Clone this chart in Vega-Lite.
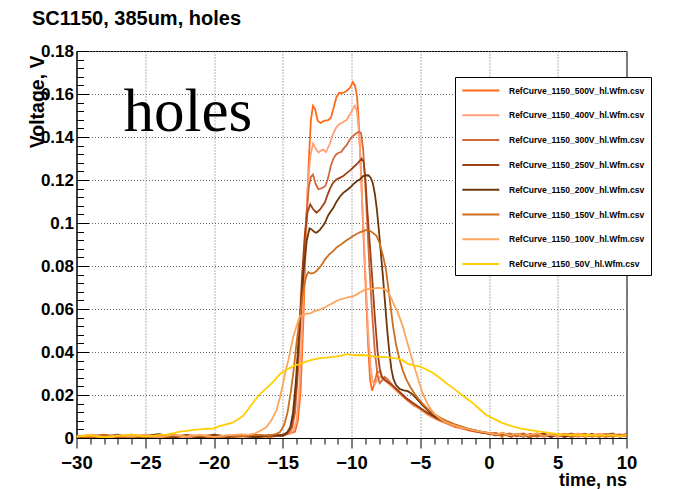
{
 "$schema": "https://vega.github.io/schema/vega-lite/v6.json",
 "width": 550, "height": 387,
 "autosize": {"type": "none"},
 "padding": {"left": 76.5, "top": 51, "right": 47.5, "bottom": 51},
 "background": "white",
 "title": {"text": "SC1150, 385um, holes", "anchor": "start", "frame": "group", "font": "Liberation Sans", "fontSize": 20, "fontWeight": "bold", "color": "black", "dx": -44.5, "dy": 17, "baseline": "alphabetic", "offset": 14},
 "config": {"view": {"stroke": "black", "strokeWidth": 1}},
 "data": {"values": [
{"s":"500V","t":-30,"v":0.0005},{"s":"500V","t":-29,"v":0.0012},{"s":"500V","t":-28,"v":0.0002},{"s":"500V","t":-27,"v":0.001},{"s":"500V","t":-26,"v":-0.0003},{"s":"500V","t":-25,"v":0.0008},{"s":"500V","t":-24,"v":0.0015},{"s":"500V","t":-23,"v":0.0002},{"s":"500V","t":-22,"v":0.001},{"s":"500V","t":-21,"v":-0.0002},{"s":"500V","t":-20,"v":0.0009},{"s":"500V","t":-19,"v":0.0004},{"s":"500V","t":-18,"v":0.0012},{"s":"500V","t":-17,"v":0.0},{"s":"500V","t":-16,"v":0.001},{"s":"500V","t":-15,"v":0.0015},{"s":"500V","t":-14.5,"v":0.002},{"s":"500V","t":-14.1,"v":0.003},{"s":"500V","t":-13.9,"v":0.008},{"s":"500V","t":-13.7,"v":0.022},{"s":"500V","t":-13.5,"v":0.055},{"s":"500V","t":-13.3,"v":0.095},{"s":"500V","t":-13.1,"v":0.13},{"s":"500V","t":-12.95,"v":0.148},{"s":"500V","t":-12.8,"v":0.1545},{"s":"500V","t":-12.65,"v":0.153},{"s":"500V","t":-12.45,"v":0.1475},{"s":"500V","t":-12.25,"v":0.1465},{"s":"500V","t":-12.0,"v":0.1475},{"s":"500V","t":-11.7,"v":0.1478},{"s":"500V","t":-11.5,"v":0.149},{"s":"500V","t":-11.3,"v":0.1535},{"s":"500V","t":-11.1,"v":0.1585},{"s":"500V","t":-10.9,"v":0.1605},{"s":"500V","t":-10.6,"v":0.1605},{"s":"500V","t":-10.35,"v":0.1615},{"s":"500V","t":-10.1,"v":0.163},{"s":"500V","t":-9.9,"v":0.1655},{"s":"500V","t":-9.75,"v":0.164},{"s":"500V","t":-9.6,"v":0.159},{"s":"500V","t":-9.5,"v":0.15},{"s":"500V","t":-9.35,"v":0.13},{"s":"500V","t":-9.2,"v":0.105},{"s":"500V","t":-9.0,"v":0.075},{"s":"500V","t":-8.8,"v":0.045},{"s":"500V","t":-8.65,"v":0.027},{"s":"500V","t":-8.5,"v":0.022},{"s":"500V","t":-8.35,"v":0.025},{"s":"500V","t":-8.15,"v":0.0305},{"s":"500V","t":-7.95,"v":0.031},{"s":"500V","t":-7.75,"v":0.028},{"s":"500V","t":-7.5,"v":0.0265},{"s":"500V","t":-7.2,"v":0.025},{"s":"500V","t":-6.9,"v":0.0235},{"s":"500V","t":-6.5,"v":0.021},{"s":"500V","t":-6.0,"v":0.018},{"s":"500V","t":-5.5,"v":0.0152},{"s":"500V","t":-5.0,"v":0.0135},{"s":"500V","t":-4.5,"v":0.011},{"s":"500V","t":-4.0,"v":0.0092},{"s":"500V","t":-3.5,"v":0.0078},{"s":"500V","t":-3.0,"v":0.0065},{"s":"500V","t":-2.5,"v":0.0052},{"s":"500V","t":-2.0,"v":0.0045},{"s":"500V","t":-1.5,"v":0.0035},{"s":"500V","t":-1.0,"v":0.003},{"s":"500V","t":-0.5,"v":0.0025},{"s":"500V","t":0,"v":0.002},{"s":"500V","t":0.5,"v":0.0022},{"s":"500V","t":0.9,"v":0.0008},{"s":"500V","t":1.2,"v":-0.0018},{"s":"500V","t":1.5,"v":-0.0005},{"s":"500V","t":1.9,"v":0.0018},{"s":"500V","t":2.5,"v":0.0008},{"s":"500V","t":3.0,"v":0.002},{"s":"500V","t":3.5,"v":0.0006},{"s":"500V","t":4.0,"v":0.0015},{"s":"500V","t":4.5,"v":0.0005},{"s":"500V","t":5.0,"v":0.0013},{"s":"500V","t":5.5,"v":0.002},{"s":"500V","t":6.0,"v":0.0008},{"s":"500V","t":6.5,"v":0.0018},{"s":"500V","t":7.0,"v":0.0004},{"s":"500V","t":7.5,"v":0.0014},{"s":"500V","t":8.0,"v":0.0006},{"s":"500V","t":8.5,"v":0.0016},{"s":"500V","t":9.0,"v":0.0005},{"s":"500V","t":9.5,"v":0.0017},{"s":"500V","t":10,"v":0.001},
{"s":"400V","t":-30,"v":0.001},{"s":"400V","t":-29,"v":0.0003},{"s":"400V","t":-28,"v":0.0011},{"s":"400V","t":-27,"v":0.0005},{"s":"400V","t":-26,"v":0.0014},{"s":"400V","t":-25,"v":0.0002},{"s":"400V","t":-24,"v":0.0009},{"s":"400V","t":-23,"v":0.0016},{"s":"400V","t":-22,"v":0.0004},{"s":"400V","t":-21,"v":0.0012},{"s":"400V","t":-20,"v":0.0003},{"s":"400V","t":-19,"v":0.001},{"s":"400V","t":-18,"v":-0.0004},{"s":"400V","t":-17,"v":0.0012},{"s":"400V","t":-16,"v":0.0006},{"s":"400V","t":-15,"v":0.0013},{"s":"400V","t":-14.5,"v":0.002},{"s":"400V","t":-14.2,"v":0.004},{"s":"400V","t":-14.0,"v":0.008},{"s":"400V","t":-13.8,"v":0.022},{"s":"400V","t":-13.6,"v":0.05},{"s":"400V","t":-13.4,"v":0.085},{"s":"400V","t":-13.2,"v":0.115},{"s":"400V","t":-13.0,"v":0.131},{"s":"400V","t":-12.8,"v":0.137},{"s":"400V","t":-12.6,"v":0.1345},{"s":"400V","t":-12.4,"v":0.1328},{"s":"400V","t":-12.2,"v":0.1338},{"s":"400V","t":-12.05,"v":0.1342},{"s":"400V","t":-11.85,"v":0.133},{"s":"400V","t":-11.6,"v":0.1365},{"s":"400V","t":-11.35,"v":0.1413},{"s":"400V","t":-11.1,"v":0.1445},{"s":"400V","t":-10.9,"v":0.146},{"s":"400V","t":-10.6,"v":0.147},{"s":"400V","t":-10.35,"v":0.148},{"s":"400V","t":-10.1,"v":0.1507},{"s":"400V","t":-9.9,"v":0.153},{"s":"400V","t":-9.75,"v":0.1545},{"s":"400V","t":-9.6,"v":0.152},{"s":"400V","t":-9.45,"v":0.142},{"s":"400V","t":-9.3,"v":0.122},{"s":"400V","t":-9.15,"v":0.1},{"s":"400V","t":-9.0,"v":0.078},{"s":"400V","t":-8.8,"v":0.05},{"s":"400V","t":-8.6,"v":0.032},{"s":"400V","t":-8.45,"v":0.026},{"s":"400V","t":-8.3,"v":0.025},{"s":"400V","t":-8.1,"v":0.0275},{"s":"400V","t":-7.9,"v":0.0285},{"s":"400V","t":-7.65,"v":0.027},{"s":"400V","t":-7.35,"v":0.0255},{"s":"400V","t":-7.0,"v":0.0235},{"s":"400V","t":-6.5,"v":0.0205},{"s":"400V","t":-6.0,"v":0.0178},{"s":"400V","t":-5.5,"v":0.0155},{"s":"400V","t":-5.0,"v":0.0132},{"s":"400V","t":-4.5,"v":0.0112},{"s":"400V","t":-4.0,"v":0.0095},{"s":"400V","t":-3.5,"v":0.008},{"s":"400V","t":-3.0,"v":0.0066},{"s":"400V","t":-2.5,"v":0.0056},{"s":"400V","t":-2.0,"v":0.0047},{"s":"400V","t":-1.5,"v":0.0038},{"s":"400V","t":-1.0,"v":0.0032},{"s":"400V","t":-0.5,"v":0.0024},{"s":"400V","t":0,"v":0.0022},{"s":"400V","t":0.5,"v":0.0012},{"s":"400V","t":1.0,"v":0.0025},{"s":"400V","t":1.5,"v":0.0009},{"s":"400V","t":2.0,"v":0.0016},{"s":"400V","t":2.5,"v":0.0022},{"s":"400V","t":3.0,"v":0.0008},{"s":"400V","t":3.5,"v":0.0016},{"s":"400V","t":4.0,"v":0.0004},{"s":"400V","t":4.5,"v":0.0014},{"s":"400V","t":5.0,"v":0.002},{"s":"400V","t":5.5,"v":0.0007},{"s":"400V","t":6.0,"v":0.0015},{"s":"400V","t":6.5,"v":0.0004},{"s":"400V","t":7.0,"v":0.0018},{"s":"400V","t":7.5,"v":0.0008},{"s":"400V","t":8.0,"v":0.0015},{"s":"400V","t":8.5,"v":0.0003},{"s":"400V","t":9.0,"v":0.0012},{"s":"400V","t":9.5,"v":0.0018},{"s":"400V","t":10,"v":0.0009},
{"s":"300V","t":-30,"v":0.0002},{"s":"300V","t":-29,"v":0.001},{"s":"300V","t":-28,"v":0.0016},{"s":"300V","t":-27,"v":0.0003},{"s":"300V","t":-26,"v":0.0009},{"s":"300V","t":-25,"v":0.0013},{"s":"300V","t":-24,"v":0.0001},{"s":"300V","t":-23,"v":0.0008},{"s":"300V","t":-22,"v":0.0014},{"s":"300V","t":-21,"v":0.0005},{"s":"300V","t":-20,"v":0.0011},{"s":"300V","t":-19,"v":0.0},{"s":"300V","t":-18,"v":0.0009},{"s":"300V","t":-17,"v":0.0015},{"s":"300V","t":-16,"v":0.0004},{"s":"300V","t":-15,"v":0.0012},{"s":"300V","t":-14.6,"v":0.002},{"s":"300V","t":-14.3,"v":0.005},{"s":"300V","t":-14.1,"v":0.012},{"s":"300V","t":-13.9,"v":0.03},{"s":"300V","t":-13.7,"v":0.055},{"s":"300V","t":-13.5,"v":0.08},{"s":"300V","t":-13.3,"v":0.102},{"s":"300V","t":-13.1,"v":0.117},{"s":"300V","t":-12.95,"v":0.1215},{"s":"300V","t":-12.8,"v":0.1225},{"s":"300V","t":-12.6,"v":0.118},{"s":"300V","t":-12.4,"v":0.1157},{"s":"300V","t":-12.15,"v":0.1162},{"s":"300V","t":-11.9,"v":0.1172},{"s":"300V","t":-11.7,"v":0.121},{"s":"300V","t":-11.5,"v":0.1266},{"s":"300V","t":-11.3,"v":0.1302},{"s":"300V","t":-11.1,"v":0.132},{"s":"300V","t":-10.9,"v":0.1328},{"s":"300V","t":-10.75,"v":0.133},{"s":"300V","t":-10.55,"v":0.1348},{"s":"300V","t":-10.35,"v":0.1362},{"s":"300V","t":-10.15,"v":0.1385},{"s":"300V","t":-9.95,"v":0.1402},{"s":"300V","t":-9.7,"v":0.1415},{"s":"300V","t":-9.45,"v":0.1425},{"s":"300V","t":-9.3,"v":0.1418},{"s":"300V","t":-9.15,"v":0.134},{"s":"300V","t":-9.0,"v":0.118},{"s":"300V","t":-8.85,"v":0.099},{"s":"300V","t":-8.7,"v":0.08},{"s":"300V","t":-8.5,"v":0.058},{"s":"300V","t":-8.3,"v":0.04},{"s":"300V","t":-8.1,"v":0.029},{"s":"300V","t":-7.95,"v":0.0255},{"s":"300V","t":-7.8,"v":0.0265},{"s":"300V","t":-7.6,"v":0.0285},{"s":"300V","t":-7.4,"v":0.0275},{"s":"300V","t":-7.1,"v":0.0252},{"s":"300V","t":-6.8,"v":0.023},{"s":"300V","t":-6.4,"v":0.0205},{"s":"300V","t":-6.0,"v":0.018},{"s":"300V","t":-5.5,"v":0.0158},{"s":"300V","t":-5.0,"v":0.0138},{"s":"300V","t":-4.5,"v":0.0116},{"s":"300V","t":-4.0,"v":0.0098},{"s":"300V","t":-3.5,"v":0.0082},{"s":"300V","t":-3.0,"v":0.0068},{"s":"300V","t":-2.5,"v":0.0058},{"s":"300V","t":-2.0,"v":0.0048},{"s":"300V","t":-1.5,"v":0.0039},{"s":"300V","t":-1.0,"v":0.0031},{"s":"300V","t":-0.5,"v":0.0026},{"s":"300V","t":0,"v":0.0018},{"s":"300V","t":0.5,"v":0.0024},{"s":"300V","t":1.0,"v":0.0012},{"s":"300V","t":1.5,"v":0.002},{"s":"300V","t":2.0,"v":0.0007},{"s":"300V","t":2.5,"v":0.0017},{"s":"300V","t":3.0,"v":0.0011},{"s":"300V","t":3.5,"v":0.0021},{"s":"300V","t":4.0,"v":0.0009},{"s":"300V","t":4.5,"v":0.0017},{"s":"300V","t":5.0,"v":0.0006},{"s":"300V","t":5.5,"v":0.0015},{"s":"300V","t":6.0,"v":0.0021},{"s":"300V","t":6.5,"v":0.001},{"s":"300V","t":7.0,"v":0.0016},{"s":"300V","t":7.5,"v":0.0005},{"s":"300V","t":8.0,"v":0.0014},{"s":"300V","t":8.5,"v":0.0019},{"s":"300V","t":9.0,"v":0.0007},{"s":"300V","t":9.5,"v":0.0013},{"s":"300V","t":10,"v":0.0016},
{"s":"250V","t":-30,"v":0.0008},{"s":"250V","t":-29,"v":0.0001},{"s":"250V","t":-28,"v":0.0012},{"s":"250V","t":-27,"v":0.0006},{"s":"250V","t":-26,"v":0.0015},{"s":"250V","t":-25,"v":0.0004},{"s":"250V","t":-24,"v":0.0011},{"s":"250V","t":-23,"v":0.0},{"s":"250V","t":-22,"v":0.0013},{"s":"250V","t":-21,"v":0.0007},{"s":"250V","t":-20,"v":0.0016},{"s":"250V","t":-19,"v":0.0005},{"s":"250V","t":-18,"v":0.001},{"s":"250V","t":-17,"v":0.0003},{"s":"250V","t":-16,"v":0.0013},{"s":"250V","t":-15,"v":0.0009},{"s":"250V","t":-14.7,"v":0.002},{"s":"250V","t":-14.4,"v":0.005},{"s":"250V","t":-14.2,"v":0.011},{"s":"250V","t":-14.0,"v":0.025},{"s":"250V","t":-13.8,"v":0.05},{"s":"250V","t":-13.6,"v":0.075},{"s":"250V","t":-13.4,"v":0.094},{"s":"250V","t":-13.2,"v":0.105},{"s":"250V","t":-13.0,"v":0.1087},{"s":"250V","t":-12.8,"v":0.1065},{"s":"250V","t":-12.55,"v":0.1048},{"s":"250V","t":-12.3,"v":0.1062},{"s":"250V","t":-12.1,"v":0.108},{"s":"250V","t":-11.94,"v":0.1095},{"s":"250V","t":-11.75,"v":0.113},{"s":"250V","t":-11.55,"v":0.1162},{"s":"250V","t":-11.33,"v":0.1188},{"s":"250V","t":-11.1,"v":0.1202},{"s":"250V","t":-10.85,"v":0.121},{"s":"250V","t":-10.6,"v":0.1219},{"s":"250V","t":-10.35,"v":0.1232},{"s":"250V","t":-10.1,"v":0.1245},{"s":"250V","t":-9.88,"v":0.1258},{"s":"250V","t":-9.65,"v":0.1272},{"s":"250V","t":-9.45,"v":0.1285},{"s":"250V","t":-9.27,"v":0.13},{"s":"250V","t":-9.12,"v":0.1285},{"s":"250V","t":-8.98,"v":0.12},{"s":"250V","t":-8.85,"v":0.106},{"s":"250V","t":-8.7,"v":0.093},{"s":"250V","t":-8.5,"v":0.075},{"s":"250V","t":-8.3,"v":0.056},{"s":"250V","t":-8.1,"v":0.04},{"s":"250V","t":-7.95,"v":0.0325},{"s":"250V","t":-7.8,"v":0.0285},{"s":"250V","t":-7.6,"v":0.0272},{"s":"250V","t":-7.35,"v":0.026},{"s":"250V","t":-7.1,"v":0.0248},{"s":"250V","t":-6.8,"v":0.0232},{"s":"250V","t":-6.4,"v":0.0208},{"s":"250V","t":-6.0,"v":0.0185},{"s":"250V","t":-5.5,"v":0.0162},{"s":"250V","t":-5.0,"v":0.014},{"s":"250V","t":-4.5,"v":0.0118},{"s":"250V","t":-4.0,"v":0.01},{"s":"250V","t":-3.5,"v":0.0084},{"s":"250V","t":-3.0,"v":0.0071},{"s":"250V","t":-2.5,"v":0.006},{"s":"250V","t":-2.0,"v":0.0049},{"s":"250V","t":-1.5,"v":0.004},{"s":"250V","t":-1.0,"v":0.0032},{"s":"250V","t":-0.5,"v":0.0025},{"s":"250V","t":0,"v":0.0021},{"s":"250V","t":0.5,"v":0.0012},{"s":"250V","t":1.0,"v":0.0019},{"s":"250V","t":1.5,"v":0.0008},{"s":"250V","t":2.0,"v":0.0018},{"s":"250V","t":2.5,"v":0.0011},{"s":"250V","t":3.0,"v":0.0004},{"s":"250V","t":3.5,"v":0.0016},{"s":"250V","t":4.0,"v":0.0021},{"s":"250V","t":4.5,"v":0.0008},{"s":"250V","t":5.0,"v":0.0015},{"s":"250V","t":5.5,"v":0.0004},{"s":"250V","t":6.0,"v":0.0013},{"s":"250V","t":6.5,"v":0.0019},{"s":"250V","t":7.0,"v":0.0008},{"s":"250V","t":7.5,"v":0.0017},{"s":"250V","t":8.0,"v":0.001},{"s":"250V","t":8.5,"v":0.0014},{"s":"250V","t":9.0,"v":0.0021},{"s":"250V","t":9.5,"v":0.0006},{"s":"250V","t":10,"v":0.0012},
{"s":"200V","t":-30,"v":0.0004},{"s":"200V","t":-29,"v":0.0013},{"s":"200V","t":-28,"v":0.0006},{"s":"200V","t":-27,"v":0.0015},{"s":"200V","t":-26,"v":0.0002},{"s":"200V","t":-25,"v":0.001},{"s":"200V","t":-24,"v":0.0018},{"s":"200V","t":-23,"v":0.0006},{"s":"200V","t":-22,"v":0.0011},{"s":"200V","t":-21,"v":0.0002},{"s":"200V","t":-20,"v":0.0013},{"s":"200V","t":-19,"v":0.0007},{"s":"200V","t":-18,"v":0.0015},{"s":"200V","t":-17,"v":0.0004},{"s":"200V","t":-16,"v":0.0011},{"s":"200V","t":-15,"v":0.0014},{"s":"200V","t":-14.7,"v":0.0025},{"s":"200V","t":-14.45,"v":0.005},{"s":"200V","t":-14.25,"v":0.012},{"s":"200V","t":-14.05,"v":0.026},{"s":"200V","t":-13.85,"v":0.045},{"s":"200V","t":-13.65,"v":0.063},{"s":"200V","t":-13.45,"v":0.08},{"s":"200V","t":-13.25,"v":0.092},{"s":"200V","t":-13.05,"v":0.0975},{"s":"200V","t":-12.9,"v":0.097},{"s":"200V","t":-12.7,"v":0.0958},{"s":"200V","t":-12.55,"v":0.0955},{"s":"200V","t":-12.3,"v":0.0968},{"s":"200V","t":-12.1,"v":0.0985},{"s":"200V","t":-11.94,"v":0.1},{"s":"200V","t":-11.7,"v":0.1035},{"s":"200V","t":-11.5,"v":0.1055},{"s":"200V","t":-11.33,"v":0.107},{"s":"200V","t":-11.1,"v":0.1098},{"s":"200V","t":-10.85,"v":0.1122},{"s":"200V","t":-10.6,"v":0.114},{"s":"200V","t":-10.35,"v":0.1152},{"s":"200V","t":-10.1,"v":0.1165},{"s":"200V","t":-9.88,"v":0.118},{"s":"200V","t":-9.6,"v":0.1195},{"s":"200V","t":-9.35,"v":0.1205},{"s":"200V","t":-9.15,"v":0.1218},{"s":"200V","t":-8.95,"v":0.1222},{"s":"200V","t":-8.75,"v":0.1221},{"s":"200V","t":-8.6,"v":0.121},{"s":"200V","t":-8.45,"v":0.1185},{"s":"200V","t":-8.3,"v":0.1135},{"s":"200V","t":-8.15,"v":0.106},{"s":"200V","t":-8.0,"v":0.096},{"s":"200V","t":-7.85,"v":0.085},{"s":"200V","t":-7.7,"v":0.074},{"s":"200V","t":-7.55,"v":0.062},{"s":"200V","t":-7.4,"v":0.05},{"s":"200V","t":-7.25,"v":0.04},{"s":"200V","t":-7.1,"v":0.032},{"s":"200V","t":-6.95,"v":0.0275},{"s":"200V","t":-6.75,"v":0.0245},{"s":"200V","t":-6.5,"v":0.0228},{"s":"200V","t":-6.2,"v":0.0222},{"s":"200V","t":-5.9,"v":0.0218},{"s":"200V","t":-5.6,"v":0.0205},{"s":"200V","t":-5.3,"v":0.0185},{"s":"200V","t":-5.0,"v":0.0165},{"s":"200V","t":-4.6,"v":0.0138},{"s":"200V","t":-4.2,"v":0.0112},{"s":"200V","t":-3.8,"v":0.0094},{"s":"200V","t":-3.4,"v":0.0082},{"s":"200V","t":-3.0,"v":0.0072},{"s":"200V","t":-2.5,"v":0.0062},{"s":"200V","t":-2.0,"v":0.0052},{"s":"200V","t":-1.5,"v":0.0043},{"s":"200V","t":-1.0,"v":0.0035},{"s":"200V","t":-0.5,"v":0.0027},{"s":"200V","t":0,"v":0.0023},{"s":"200V","t":0.5,"v":0.0015},{"s":"200V","t":1.0,"v":0.0022},{"s":"200V","t":1.5,"v":0.001},{"s":"200V","t":2.0,"v":0.0019},{"s":"200V","t":2.5,"v":0.0006},{"s":"200V","t":3.0,"v":0.0017},{"s":"200V","t":3.5,"v":0.0011},{"s":"200V","t":4.0,"v":0.0019},{"s":"200V","t":4.5,"v":0.0005},{"s":"200V","t":5.0,"v":0.0016},{"s":"200V","t":5.5,"v":0.0012},{"s":"200V","t":6.0,"v":0.0006},{"s":"200V","t":6.5,"v":0.0017},{"s":"200V","t":7.0,"v":0.0011},{"s":"200V","t":7.5,"v":0.0019},{"s":"200V","t":8.0,"v":0.0007},{"s":"200V","t":8.5,"v":0.0013},{"s":"200V","t":9.0,"v":0.0018},{"s":"200V","t":9.5,"v":0.0009},{"s":"200V","t":10,"v":0.0014},
{"s":"150V","t":-30,"v":0.0009},{"s":"150V","t":-29,"v":0.0003},{"s":"150V","t":-28,"v":0.0014},{"s":"150V","t":-27,"v":0.0008},{"s":"150V","t":-26,"v":0.0001},{"s":"150V","t":-25,"v":0.0012},{"s":"150V","t":-24,"v":0.0006},{"s":"150V","t":-23,"v":0.0014},{"s":"150V","t":-22,"v":0.0005},{"s":"150V","t":-21,"v":0.0011},{"s":"150V","t":-20,"v":0.0002},{"s":"150V","t":-19,"v":0.0012},{"s":"150V","t":-18,"v":0.0007},{"s":"150V","t":-17,"v":0.0016},{"s":"150V","t":-16,"v":0.0012},{"s":"150V","t":-15.5,"v":0.0018},{"s":"150V","t":-15.2,"v":0.0028},{"s":"150V","t":-14.9,"v":0.006},{"s":"150V","t":-14.65,"v":0.012},{"s":"150V","t":-14.4,"v":0.022},{"s":"150V","t":-14.2,"v":0.032},{"s":"150V","t":-14.0,"v":0.044},{"s":"150V","t":-13.76,"v":0.056},{"s":"150V","t":-13.5,"v":0.069},{"s":"150V","t":-13.3,"v":0.075},{"s":"150V","t":-13.15,"v":0.0772},{"s":"150V","t":-12.95,"v":0.0765},{"s":"150V","t":-12.75,"v":0.0768},{"s":"150V","t":-12.55,"v":0.0776},{"s":"150V","t":-12.3,"v":0.0795},{"s":"150V","t":-12.1,"v":0.0812},{"s":"150V","t":-11.94,"v":0.083},{"s":"150V","t":-11.65,"v":0.0852},{"s":"150V","t":-11.34,"v":0.0869},{"s":"150V","t":-11.1,"v":0.0885},{"s":"150V","t":-10.85,"v":0.0896},{"s":"150V","t":-10.6,"v":0.0908},{"s":"150V","t":-10.35,"v":0.092},{"s":"150V","t":-10.1,"v":0.093},{"s":"150V","t":-9.88,"v":0.0939},{"s":"150V","t":-9.6,"v":0.095},{"s":"150V","t":-9.35,"v":0.0958},{"s":"150V","t":-9.15,"v":0.0962},{"s":"150V","t":-8.9,"v":0.0968},{"s":"150V","t":-8.67,"v":0.0964},{"s":"150V","t":-8.45,"v":0.0955},{"s":"150V","t":-8.18,"v":0.094},{"s":"150V","t":-7.95,"v":0.0905},{"s":"150V","t":-7.7,"v":0.0846},{"s":"150V","t":-7.5,"v":0.0785},{"s":"150V","t":-7.34,"v":0.0706},{"s":"150V","t":-7.15,"v":0.061},{"s":"150V","t":-6.98,"v":0.052},{"s":"150V","t":-6.75,"v":0.043},{"s":"150V","t":-6.5,"v":0.0364},{"s":"150V","t":-6.25,"v":0.031},{"s":"150V","t":-6.0,"v":0.027},{"s":"150V","t":-5.7,"v":0.0235},{"s":"150V","t":-5.4,"v":0.0205},{"s":"150V","t":-5.1,"v":0.018},{"s":"150V","t":-4.8,"v":0.0158},{"s":"150V","t":-4.4,"v":0.0132},{"s":"150V","t":-4.0,"v":0.0112},{"s":"150V","t":-3.5,"v":0.0093},{"s":"150V","t":-3.0,"v":0.0077},{"s":"150V","t":-2.5,"v":0.0064},{"s":"150V","t":-2.0,"v":0.0053},{"s":"150V","t":-1.5,"v":0.0043},{"s":"150V","t":-1.0,"v":0.0036},{"s":"150V","t":-0.5,"v":0.0029},{"s":"150V","t":0,"v":0.0024},{"s":"150V","t":0.5,"v":0.0018},{"s":"150V","t":1.0,"v":0.001},{"s":"150V","t":1.5,"v":0.0021},{"s":"150V","t":2.0,"v":0.0012},{"s":"150V","t":2.5,"v":0.002},{"s":"150V","t":3.0,"v":0.0006},{"s":"150V","t":3.5,"v":0.0015},{"s":"150V","t":4.0,"v":0.0009},{"s":"150V","t":4.5,"v":0.0018},{"s":"150V","t":5.0,"v":0.0011},{"s":"150V","t":5.5,"v":0.0019},{"s":"150V","t":6.0,"v":0.0005},{"s":"150V","t":6.5,"v":0.0014},{"s":"150V","t":7.0,"v":0.002},{"s":"150V","t":7.5,"v":0.0009},{"s":"150V","t":8.0,"v":0.0017},{"s":"150V","t":8.5,"v":0.0006},{"s":"150V","t":9.0,"v":0.0015},{"s":"150V","t":9.5,"v":0.0011},{"s":"150V","t":10,"v":0.0019},
{"s":"100V","t":-30,"v":0.0006},{"s":"100V","t":-29,"v":0.0015},{"s":"100V","t":-28,"v":0.0004},{"s":"100V","t":-27,"v":0.0012},{"s":"100V","t":-26,"v":0.0007},{"s":"100V","t":-25,"v":0.0016},{"s":"100V","t":-24,"v":0.0003},{"s":"100V","t":-23,"v":0.0013},{"s":"100V","t":-22,"v":0.0008},{"s":"100V","t":-21,"v":0.0015},{"s":"100V","t":-20,"v":0.0005},{"s":"100V","t":-19,"v":0.0012},{"s":"100V","t":-18,"v":0.0017},{"s":"100V","t":-17.5,"v":0.0015},{"s":"100V","t":-17.0,"v":0.0022},{"s":"100V","t":-16.6,"v":0.0035},{"s":"100V","t":-16.2,"v":0.005},{"s":"100V","t":-15.8,"v":0.0085},{"s":"100V","t":-15.45,"v":0.013},{"s":"100V","t":-15.2,"v":0.019},{"s":"100V","t":-14.97,"v":0.0255},{"s":"100V","t":-14.8,"v":0.031},{"s":"100V","t":-14.6,"v":0.036},{"s":"100V","t":-14.4,"v":0.042},{"s":"100V","t":-14.24,"v":0.047},{"s":"100V","t":-14.0,"v":0.052},{"s":"100V","t":-13.76,"v":0.0566},{"s":"100V","t":-13.5,"v":0.0573},{"s":"100V","t":-13.25,"v":0.0578},{"s":"100V","t":-13.0,"v":0.058},{"s":"100V","t":-12.7,"v":0.059},{"s":"100V","t":-12.3,"v":0.0597},{"s":"100V","t":-12.0,"v":0.0605},{"s":"100V","t":-11.7,"v":0.0616},{"s":"100V","t":-11.34,"v":0.0628},{"s":"100V","t":-11.1,"v":0.0637},{"s":"100V","t":-10.85,"v":0.0644},{"s":"100V","t":-10.5,"v":0.065},{"s":"100V","t":-10.2,"v":0.0655},{"s":"100V","t":-9.88,"v":0.0659},{"s":"100V","t":-9.6,"v":0.0668},{"s":"100V","t":-9.3,"v":0.068},{"s":"100V","t":-9.0,"v":0.069},{"s":"100V","t":-8.7,"v":0.0693},{"s":"100V","t":-8.4,"v":0.0695},{"s":"100V","t":-8.1,"v":0.0698},{"s":"100V","t":-7.8,"v":0.0697},{"s":"100V","t":-7.5,"v":0.0688},{"s":"100V","t":-7.3,"v":0.0675},{"s":"100V","t":-7.1,"v":0.065},{"s":"100V","t":-6.9,"v":0.0618},{"s":"100V","t":-6.7,"v":0.0595},{"s":"100V","t":-6.5,"v":0.056},{"s":"100V","t":-6.3,"v":0.0525},{"s":"100V","t":-6.1,"v":0.048},{"s":"100V","t":-5.9,"v":0.0435},{"s":"100V","t":-5.7,"v":0.039},{"s":"100V","t":-5.5,"v":0.0345},{"s":"100V","t":-5.3,"v":0.0305},{"s":"100V","t":-5.1,"v":0.0262},{"s":"100V","t":-4.9,"v":0.0222},{"s":"100V","t":-4.7,"v":0.019},{"s":"100V","t":-4.5,"v":0.0162},{"s":"100V","t":-4.3,"v":0.014},{"s":"100V","t":-4.0,"v":0.0115},{"s":"100V","t":-3.6,"v":0.0092},{"s":"100V","t":-3.2,"v":0.0075},{"s":"100V","t":-2.8,"v":0.0065},{"s":"100V","t":-2.4,"v":0.0056},{"s":"100V","t":-2.0,"v":0.0048},{"s":"100V","t":-1.5,"v":0.0041},{"s":"100V","t":-1.0,"v":0.0034},{"s":"100V","t":-0.5,"v":0.0028},{"s":"100V","t":0,"v":0.0023},{"s":"100V","t":0.5,"v":0.0016},{"s":"100V","t":1.0,"v":0.0023},{"s":"100V","t":1.5,"v":0.0011},{"s":"100V","t":2.0,"v":0.0019},{"s":"100V","t":2.5,"v":0.0009},{"s":"100V","t":3.0,"v":0.0016},{"s":"100V","t":3.5,"v":0.0022},{"s":"100V","t":4.0,"v":0.001},{"s":"100V","t":4.5,"v":0.0016},{"s":"100V","t":5.0,"v":0.0008},{"s":"100V","t":5.5,"v":0.0017},{"s":"100V","t":6.0,"v":0.0012},{"s":"100V","t":6.5,"v":0.0021},{"s":"100V","t":7.0,"v":0.0008},{"s":"100V","t":7.5,"v":0.0014},{"s":"100V","t":8.0,"v":0.002},{"s":"100V","t":8.5,"v":0.0011},{"s":"100V","t":9.0,"v":0.0017},{"s":"100V","t":9.5,"v":0.0008},{"s":"100V","t":10,"v":0.0015},
{"s":"50V","t":-30,"v":0.0006},{"s":"50V","t":-29,"v":0.0012},{"s":"50V","t":-28,"v":0.0003},{"s":"50V","t":-27,"v":0.001},{"s":"50V","t":-26,"v":0.0016},{"s":"50V","t":-25,"v":0.0006},{"s":"50V","t":-24,"v":0.0013},{"s":"50V","t":-23.5,"v":0.0016},{"s":"50V","t":-23,"v":0.0022},{"s":"50V","t":-22.5,"v":0.003},{"s":"50V","t":-22,"v":0.0033},{"s":"50V","t":-21.5,"v":0.0038},{"s":"50V","t":-21,"v":0.004},{"s":"50V","t":-20.5,"v":0.0043},{"s":"50V","t":-20,"v":0.0045},{"s":"50V","t":-19.6,"v":0.0055},{"s":"50V","t":-19.2,"v":0.0062},{"s":"50V","t":-18.7,"v":0.007},{"s":"50V","t":-18.3,"v":0.0085},{"s":"50V","t":-17.9,"v":0.0102},{"s":"50V","t":-17.5,"v":0.0135},{"s":"50V","t":-17.1,"v":0.017},{"s":"50V","t":-16.7,"v":0.0202},{"s":"50V","t":-16.3,"v":0.0225},{"s":"50V","t":-15.9,"v":0.0248},{"s":"50V","t":-15.5,"v":0.0275},{"s":"50V","t":-15.2,"v":0.0298},{"s":"50V","t":-14.8,"v":0.0315},{"s":"50V","t":-14.5,"v":0.0325},{"s":"50V","t":-14.1,"v":0.0338},{"s":"50V","t":-13.7,"v":0.0345},{"s":"50V","t":-13.27,"v":0.0356},{"s":"50V","t":-12.8,"v":0.0365},{"s":"50V","t":-12.3,"v":0.0372},{"s":"50V","t":-11.8,"v":0.0374},{"s":"50V","t":-11.3,"v":0.0377},{"s":"50V","t":-10.8,"v":0.0382},{"s":"50V","t":-10.36,"v":0.039},{"s":"50V","t":-10.0,"v":0.0387},{"s":"50V","t":-9.64,"v":0.0385},{"s":"50V","t":-9.2,"v":0.0386},{"s":"50V","t":-8.7,"v":0.0382},{"s":"50V","t":-8.2,"v":0.0378},{"s":"50V","t":-7.7,"v":0.0377},{"s":"50V","t":-7.2,"v":0.0374},{"s":"50V","t":-6.73,"v":0.037},{"s":"50V","t":-6.3,"v":0.0362},{"s":"50V","t":-5.9,"v":0.0345},{"s":"50V","t":-5.5,"v":0.0338},{"s":"50V","t":-5.04,"v":0.0333},{"s":"50V","t":-4.6,"v":0.032},{"s":"50V","t":-4.06,"v":0.0302},{"s":"50V","t":-3.6,"v":0.028},{"s":"50V","t":-3.1,"v":0.0255},{"s":"50V","t":-2.6,"v":0.0232},{"s":"50V","t":-2.13,"v":0.0208},{"s":"50V","t":-1.65,"v":0.0185},{"s":"50V","t":-1.16,"v":0.0162},{"s":"50V","t":-0.7,"v":0.0135},{"s":"50V","t":-0.19,"v":0.0107},{"s":"50V","t":0.4,"v":0.0088},{"s":"50V","t":1.0,"v":0.0069},{"s":"50V","t":1.6,"v":0.0056},{"s":"50V","t":2.23,"v":0.0045},{"s":"50V","t":3.0,"v":0.0037},{"s":"50V","t":3.7,"v":0.003},{"s":"50V","t":4.4,"v":0.0024},{"s":"50V","t":5.1,"v":0.0017},{"s":"50V","t":5.8,"v":0.0015},{"s":"50V","t":6.5,"v":0.0012},{"s":"50V","t":7.2,"v":0.0014},{"s":"50V","t":8.0,"v":0.001},{"s":"50V","t":8.8,"v":0.0013},{"s":"50V","t":9.5,"v":0.0009},{"s":"50V","t":10,"v":0.0012}
 ]},
 "layer": [
  {
   "mark": {"type": "line", "strokeWidth": 1.8, "clip": true},
   "encoding": {
    "x": {"field": "t", "type": "quantitative",
     "scale": {"domain": [-30, 10], "nice": false, "zero": false},
     "axis": {"title": "time, ns", "tickCount": 1000,
      "values": [-30,-29,-28,-27,-26,-25,-24,-23,-22,-21,-20,-19,-18,-17,-16,-15,-14,-13,-12,-11,-10,-9,-8,-7,-6,-5,-4,-3,-2,-1,0,1,2,3,4,5,6,7,8,9,10],
      "format": "d",
      "labelExpr": "datum.value % 5 === 0 ? datum.label : ''",
      "tickSize": {"condition": {"test": "datum.value % 5 === 0", "value": 10}, "value": 6},
      "grid": true,
      "gridOpacity": {"condition": {"test": "datum.value % 5 === 0", "value": 1}, "value": 0},
      "gridDash": [1, 2], "gridColor": "#666", "gridWidth": 1,
      "domainColor": "black", "tickColor": "black",
      "labelFont": "Liberation Sans", "labelFontSize": 18.5, "labelFontWeight": "bold", "labelColor": "black",
      "labelPadding": 5, "labelFlush": false, "labelOverlap": false,
      "titleFont": "Liberation Sans", "titleFontSize": 18, "titleFontWeight": "bold", "titleColor": "black",
      "titleX": 550, "titleY": 47, "titleAlign": "right", "titleBaseline": "alphabetic"}},
    "y": {"field": "v", "type": "quantitative",
     "scale": {"domain": [0, 0.18], "nice": false, "zero": false},
     "axis": {"title": "Voltage, V", "tickCount": 1000,
      "values": [0,0.004,0.008,0.012,0.016,0.02,0.024,0.028,0.032,0.036,0.04,0.044,0.048,0.052,0.056,0.06,0.064,0.068,0.072,0.076,0.08,0.084,0.088,0.092,0.096,0.1,0.104,0.108,0.112,0.116,0.12,0.124,0.128,0.132,0.136,0.14,0.144,0.148,0.152,0.156,0.16,0.164,0.168,0.172,0.176,0.18],
      "format": "~g",
      "labelExpr": "abs(datum.value*50 - round(datum.value*50)) < 0.000001 ? datum.label : ''",
      "tickSize": {"condition": {"test": "abs(datum.value*50 - round(datum.value*50)) < 0.000001", "value": -12}, "value": -7},
      "grid": true,
      "gridOpacity": {"condition": {"test": "abs(datum.value*50 - round(datum.value*50)) < 0.000001", "value": 1}, "value": 0},
      "gridDash": [1, 2], "gridColor": "#666", "gridWidth": 1,
      "domainColor": "black", "tickColor": "black",
      "labelFont": "Liberation Sans", "labelFontSize": 17, "labelFontWeight": "bold", "labelColor": "black",
      "labelPadding": 15, "labelFlush": false, "labelOverlap": false,
      "titleFont": "Liberation Sans", "titleFontSize": 19.5, "titleFontWeight": "bold", "titleColor": "black",
      "titleAngle": 270, "titleX": -33, "titleY": 4, "titleAlign": "right", "titleBaseline": "alphabetic"}},
    "color": {"field": "s", "type": "nominal",
     "scale": {"domain": ["500V","400V","300V","250V","200V","150V","100V","50V"],
               "range": ["#ff6a1a","#ffa078","#d2693a","#a04114","#6e370a","#cd6e1e","#ffa55a","#ffcd00"]},
     "legend": {"title": null, "orient": "none", "legendX": 378.5, "legendY": 26,
      "fillColor": "white", "strokeColor": "black", "padding": 6,
      "symbolType": "M-1,0H5", "symbolStrokeWidth": 2, "symbolSize": 152, "symbolFillColor": "transparent",
      "labelFont": "Liberation Sans", "labelFontSize": 8.5, "labelFontWeight": "bold", "labelColor": "black",
      "labelOffset": 33, "rowPadding": 12.8, "labelLimit": 0,
      "labelExpr": "'RefCurve_1150_' + datum.label + '_hl.Wfm.csv\u00a0\u00a0\u00a0\u00a0\u00a0'"}}
   }
  },
  {
   "data": {"values": [{}]},
   "mark": {"type": "text", "text": "holes", "font": "Liberation Serif", "fontSize": 61, "align": "center", "baseline": "alphabetic", "color": "black"},
   "encoding": {"x": {"datum": -21.9, "type": "quantitative"}, "y": {"datum": 0.143, "type": "quantitative"}}
  }
 ]
}
